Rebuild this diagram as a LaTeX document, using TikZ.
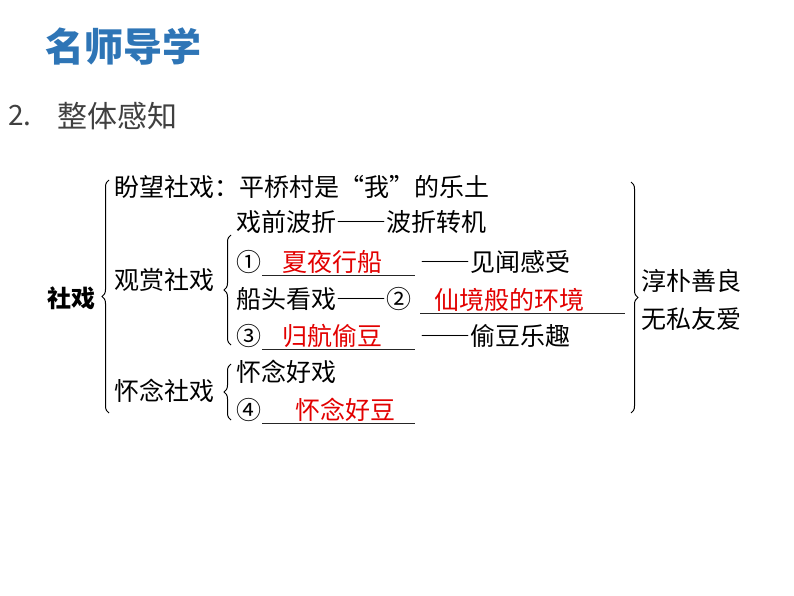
\documentclass[tikz,border=0pt]{standalone}
\usepackage{fontspec}
\newfontfamily\cjk{Noto Sans CJK SC}[CharacterWidth=Full]
\newfontfamily\cjkhead{Noto Sans CJK SC}
\usetikzlibrary{decorations.pathreplacing}
\definecolor{titleblue}{RGB}{46,117,182}
\definecolor{ansred}{RGB}{226,0,0}
\definecolor{headgray}{RGB}{64,64,64}
\tikzset{
  txt/.style={anchor=west, inner sep=0pt, font=\cjk\fontsize{25}{30}\selectfont},
  ans/.style={txt, text=ansred},
  blank/.style={line width=0.8pt, black!85},
  brc/.style={decorate, decoration={brace, amplitude=7pt}, line width=1pt},
}
\begin{document}
\begin{tikzpicture}[x=1pt, y=-1pt]
    \useasboundingbox (0,0) rectangle (794,596);
    % heading
    \node[anchor=west, inner sep=0pt, text=titleblue, font=\cjkhead\bfseries\fontsize{39}{42}\selectfont] (title) at (45,47) {名师导学};
    \node[anchor=west, inner sep=0pt, text=headgray, font=\cjkhead\fontsize{28}{32}\selectfont] (num) at (8,116) {2.};
    \node[anchor=west, inner sep=0pt, text=headgray, font=\cjkhead\fontsize{30}{32}\selectfont] (head) at (57,116) {整体感知};

    % left column
    \node[txt, font=\cjk\bfseries\fontsize{24}{30}\selectfont] (root) at (47,298) {社戏};
    \node[txt] (hope) at (114,187) {盼望社戏：平桥村是“我”的乐土};
    \node[txt] (watch) at (114,280) {观赏社戏};
    \node[txt] (miss) at (114,391) {怀念社戏};

    % watching the opera
    \node[txt] (w1) at (236,222) {戏前波折——波折转机};
    \node[txt] (n1) at (236,262) {①};
    \node[ans] (a1) at (282,262) {夏夜行船};
    \node[txt] (w2) at (420,262) {——见闻感受};
    \node[txt] (w3) at (236,299) {船头看戏——②};
    \node[ans] (a2) at (434,300) {仙境般的环境};
    \node[txt] (n3) at (236,336) {③};
    \node[ans] (a3) at (282,336) {归航偷豆};
    \node[txt] (w4) at (420,336) {——偷豆乐趣};

    % missing the opera
    \node[txt] (m1) at (236,372) {怀念好戏};
    \node[txt] (n4) at (236,410) {④};
    \node[ans] (a4) at (295,410) {怀念好豆};

    % blanks
    \draw[blank] (262,275) -- (415,275);
    \draw[blank] (420,313) -- (625,313);
    \draw[blank] (262,349) -- (415,349);
    \draw[blank] (262,423) -- (415,423);

    % right column
    \node[txt] (r1) at (641,281) {淳朴善良};
    \node[txt] (r2) at (641,319) {无私友爱};

    % braces
    \draw[brc] (109,413) -- (109,180);
    \draw[brc] (231,345) -- (231,235);
    \draw[brc] (231,420) -- (231,364);
    \draw[brc] (631,182) -- (631,413);
\end{tikzpicture}
\end{document}
